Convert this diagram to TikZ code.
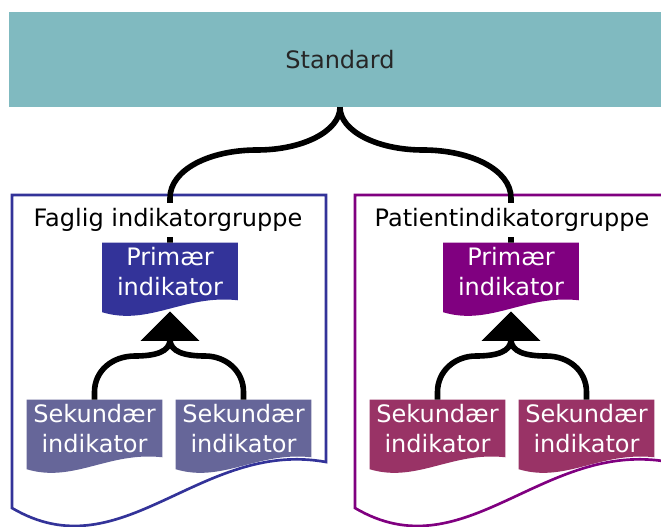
\documentclass[tikz,border=0pt]{standalone}
\usepackage{fontspec}
\setmainfont{DejaVu Sans}
\usetikzlibrary{arrows.meta,backgrounds}

\definecolor{stdteal}{RGB}{128,186,192}
\definecolor{fagblue}{RGB}{51,51,153}
\definecolor{fagslate}{RGB}{102,102,153}
\definecolor{patpurple}{RGB}{128,0,128}
\definecolor{patrose}{RGB}{153,51,102}

\tikzset{
  ind/.style={text=white, align=center, inner sep=0pt, minimum width=101.25pt,
    minimum height=42.75pt, font=\fontsize{18}{22.5}\selectfont},
  grp/.style={fill=white, inner xsep=2pt, inner ysep=4pt, font=\fontsize{18}{22}\selectfont},
  frame/.style={line width=2pt},
  link/.style={line width=4.2pt},
  up/.style={link, -{Triangle[width=43pt,length=22pt]}},
}

\begin{document}
\begin{tikzpicture}[x=0.75pt,y=-0.75pt]
\useasboundingbox (0,0) rectangle (661,527);
\clip (0,0) rectangle (661,527);

% group frames
\draw[fagblue, frame] (12,508) -- (12,195) -- (326,195) -- (326,462)
  .. controls +(-126,-23) and +(110,65) .. (12,508) -- cycle;
\draw[patpurple, frame] (355,508) -- (355,195) -- (669,195) -- (669,462)
  .. controls +(-126,-23) and +(110,65) .. (355,508) -- cycle;

\node[fill=stdteal, minimum width=496.5pt, minimum height=71.25pt, inner sep=0pt,
  text=black!85, font=\fontsize{18}{22}\selectfont] (std) at (340,59.5) {Standard};

\node[ind] (p1) at (170,271.5) {Primær\\indikator};
\node[ind] (s1) at (94.5,428.5) {Sekundær\\indikator};
\node[ind] (s2) at (243.5,428.5) {Sekundær\\indikator};
\node[ind] (p2) at (511,271.5) {Primær\\indikator};
\node[ind] (s3) at (437.5,428.5) {Sekundær\\indikator};
\node[ind] (s4) at (586.5,428.5) {Sekundær\\indikator};

% document shapes behind the texts
\begin{scope}[on background layer]
\foreach \n/\c in {p1/fagblue, s1/fagslate, s2/fagslate, p2/patpurple, s3/patrose, s4/patrose}
  \fill[\c] (\n.south east) -- (\n.north east) -- (\n.north west) -- ([yshift=-9pt]\n.south west)
    .. controls +(47,14) and +(-54,-6) .. (\n.south east);
\end{scope}

% brace
\draw[link] (std.south) .. controls (340,131) and (303,150) .. (257,150)
  .. controls (209,150) and (170,170) .. (170,198) -- (p1.north);
\draw[link] (std.south) .. controls (340,131) and (377,150) .. (423,150)
  .. controls (471,150) and (511,170) .. (511,198) -- (p2.north);

\coordinate (t1) at ([yshift=-8.5pt]p1.south);
\coordinate (t2) at ([yshift=-8.5pt]p2.south);
\draw[up] (s1.north) -- (94.5,392) .. controls (94.5,371) and (112,356) .. (135,356) .. controls (155,356) and (170,352) .. (t1);
\draw[up] (s2.north) -- (243.5,392) .. controls (243.5,371) and (226,356) .. (205,356) .. controls (185,356) and (170,352) .. (t1);
\draw[up] (s3.north) -- (437.5,392) .. controls (437.5,371) and (455,356) .. (476,356) .. controls (496,356) and (511,352) .. (t2);
\draw[up] (s4.north) -- (586.5,392) .. controls (586.5,371) and (569,356) .. (546,356) .. controls (526,356) and (511,352) .. (t2);

\node[grp] (g1) at (168,220) {Faglig indikatorgruppe};
\node[grp] (g2) at (512,220) {Patientindikatorgruppe};
\end{tikzpicture}
\end{document}
